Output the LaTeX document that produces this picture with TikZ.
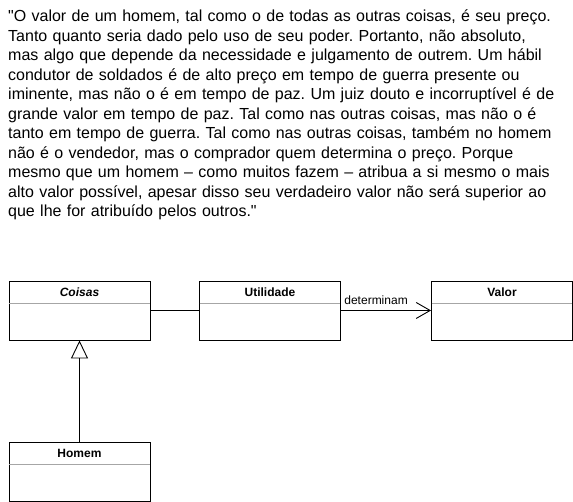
\documentclass[tikz,border=0pt]{standalone}
\usepackage{fontspec}
\setmainfont{Liberation Sans}[Ligatures=TeXOff]
\usetikzlibrary{positioning}
\usetikzlibrary{arrows.meta}
\usetikzlibrary{calc}
\frenchspacing

\begin{document}
\begin{tikzpicture}[x=1pt, y=1pt,
  cls/.style={draw, line width=0.9pt, minimum width=141pt, minimum height=59pt, inner sep=0pt},
  sep/.style={draw=gray!70, line width=0.9pt},
  ttl/.style={font=\fontsize{12}{14}\selectfont\bfseries, inner sep=0pt},
  lbl/.style={font=\fontsize{12}{14}\selectfont, inner sep=0pt},
  ln/.style={line width=0.9pt},
  quote/.style={font=\fontsize{16}{19.5}\selectfont, text width=565pt, align=left, inner sep=0pt}]

 \useasboundingbox (0,0) rectangle (573,502);

 %quote
 \node[quote, anchor=base west] (txt) at (8,480) {"O valor de um homem, tal como o de todas as outras coisas, é seu preço.\\
Tanto quanto seria dado pelo uso de seu poder. Portanto, não absoluto,\\
mas algo que depende da necessidade e julgamento de outrem. Um hábil\\
condutor de soldados é de alto preço em tempo de guerra presente ou\\
iminente, mas não o é em tempo de paz. Um juiz douto e incorruptível é de\\
grande valor em tempo de paz. Tal como nas outras coisas, mas não o é\\
tanto em tempo de guerra. Tal como nas outras coisas, também no homem\\
não é o vendedor, mas o comprador quem determina o preço. Porque\\
mesmo que um homem – como muitos fazem – atribua a si mesmo o mais\\
alto valor possível, apesar disso seu verdadeiro valor não será superior ao\\
que lhe for atribuído pelos outros."};

 %classes
 \foreach \nm/\x/\y/\ttl in {coisas/79.5/191.5/\textit{Coisas}, utilidade/270/191.5/Utilidade, valor/502/191.5/Valor, homem/79.5/30.5/Homem} {
   \node[cls] (\nm) at (\x,\y) {};
   \draw[sep] ($(\nm.north west)+(0.5,-23)$) -- ($(\nm.north east)+(-0.5,-23)$);
   \node[ttl] (\nm T) at ($(\nm.north)+(0,-11.5)$) {\ttl};
 }

 %edges
 \draw[ln] (coisas.east) -- (utilidade.west);
 \draw[ln, -{Straight Barb[length=14pt, width=16pt]}] (utilidade.east) -- node[lbl, pos=0, anchor=base west, xshift=3pt, yshift=5.5pt] (det) {determinam} (valor.west);

 %inheritance
 \draw[ln, -{Triangle[open, length=18pt, width=17pt, fill=white]}] (homem.north) -- (coisas.south);

\end{tikzpicture}
\end{document}
